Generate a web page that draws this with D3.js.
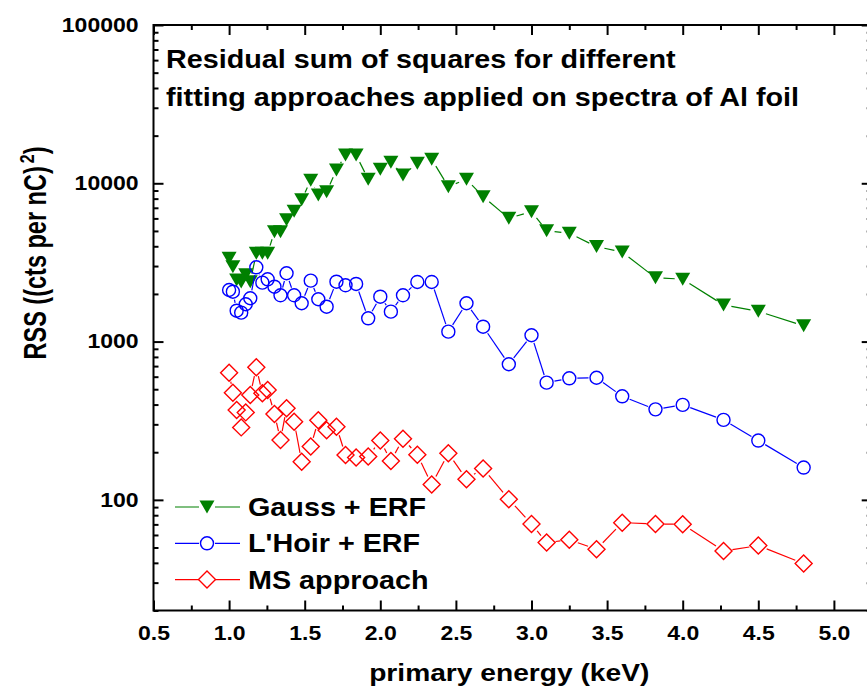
<!DOCTYPE html>
<html>
<head>
<meta charset="utf-8">
<script src="https://cdn.jsdelivr.net/npm/d3@7"></script>
<style>
  body { margin: 0; background: #fff; }
  text { font-family: "Liberation Sans", Arial, sans-serif; font-weight: bold; fill: #000; }
</style>
</head>
<body>
<div id="chart"></div>
<script>
// primary energy (keV) of each measured spectrum
const energy = [1.0, 1.025, 1.05, 1.08, 1.11, 1.14, 1.18, 1.22, 1.255, 1.3, 1.34, 1.38, 1.43, 1.48,
    1.54, 1.59, 1.645, 1.71, 1.77, 1.84, 1.92, 2.0, 2.07, 2.15, 2.245, 2.34, 2.45, 2.57, 2.68,
    2.85, 3.0, 3.1, 3.25, 3.43, 3.6, 3.82, 4.0, 4.27, 4.5, 4.8];

const gaussErf = [3360, 2970, 2450, 2380, 2640, 2390, 3610, 3610, 3610, 4950, 4950, 5890, 6660, 7880,
    10440, 8440, 8850, 12140, 15100, 15100, 10600, 12250, 13600, 11280, 13370, 14180, 9520, 10600, 8230,
    6010, 6620, 5020, 4830, 3980, 3680, 2530, 2480, 1705, 1553, 1259];

const lhoirErf = [2117, 2066, 1567, 1523, 1721, 1878, 2946, 2356, 2474, 2222, 1961, 2701, 1961, 1746,
    2426, 1851, 1661, 2390, 2268, 2313, 1403, 1921, 1545, 1961, 2380, 2380, 1155, 1746, 1242,
    719, 1096, 550, 586, 591, 451, 373, 398, 320, 237, 160];

const msApproach = [636, 475, 370, 287, 357, 460, 688, 471, 494, 349, 239, 379, 312, 174,
    217, 318, 275, 290, 192, 185, 188, 237, 176, 243, 193, 125, 197, 135, 158,
    101, 70.4, 53.7, 55.9, 48.8, 71.8, 70.4, 70.2, 47.5, 51.4, 39.6];

const seriesNames = ["Gauss + ERF", "L'Hoir + ERF", "MS approach"];
const xTicks = [0.5, 1.0, 1.5, 2.0, 2.5, 3.0, 3.5, 4.0, 4.5, 5.0];
const yTicks = [100, 1000, 10000, 100000];
const titleLines = ["Residual sum of squares for different", "fitting approaches applied on spectra of Al foil"];

const W = 867, H = 694;
const SX = 1.15; // the source picture is stretched sideways

const svg = d3.select("#chart").append("svg")
    .attr("width", W)
    .attr("height", H);

const x = d3.scaleLinear().domain([0.5, 5.25]).range([153.5, 871.7]);
const y = d3.scaleLog().domain([20, 100000]).range([610.5, 25]);

// text drawn with the same sideways stretch as the original
function label(g, px, py, str, size, anchor) {
    return g.append("text")
        .attr("transform", `translate(${px},${py}) scale(${SX},1)`)
        .attr("text-anchor", anchor || "start")
        .style("font-size", size + "px")
        .text(str);
}

// minor ticks
const xMinor = d3.range(0.75, 5.25, 0.5);
const yMinor = [];
[10, 100, 1000, 10000].forEach(d => d3.range(2, 10).forEach(k => {
    if (d * k >= 20) yMinor.push(d * k);
}));

function styleAxis(g) {
    g.select(".domain").remove();
    g.selectAll(".tick line").attr("stroke", "#000").attr("stroke-width", 2);
}

// bottom
svg.append("g").attr("transform", `translate(0,${y.range()[0]})`)
    .call(d3.axisBottom(x).tickValues(xMinor).tickSize(-5).tickFormat(""))
    .call(styleAxis);
const xAxis = svg.append("g").attr("transform", `translate(0,${y.range()[0]})`)
    .call(d3.axisBottom(x).tickValues(xTicks).tickSize(-10).tickPadding(15).tickFormat(d3.format(".1f")))
    .call(styleAxis);
xAxis.selectAll(".tick text")
    .attr("transform", `scale(${SX},1)`)
    .style("font-size", "20px")
    .style("font-family", "'Liberation Sans', Arial, sans-serif")
    .style("font-weight", "bold");

// top
svg.append("g").attr("transform", `translate(0,${y.range()[1]})`)
    .call(d3.axisTop(x).tickValues(xMinor).tickSize(-5).tickFormat(""))
    .call(styleAxis);
svg.append("g").attr("transform", `translate(0,${y.range()[1]})`)
    .call(d3.axisTop(x).tickValues(xTicks).tickSize(-10).tickFormat(""))
    .call(styleAxis);

// left
svg.append("g").attr("transform", `translate(${x.range()[0]},0)`)
    .call(d3.axisLeft(y).tickValues(yMinor).tickSize(-5).tickFormat(""))
    .call(styleAxis);
const yAxis = svg.append("g").attr("transform", `translate(${x.range()[0]},0)`)
    .call(d3.axisLeft(y).tickValues(yTicks).tickSize(-10).tickPadding(13).tickFormat(d3.format("d")))
    .call(styleAxis);
yAxis.selectAll(".tick text")
    .attr("transform", `scale(${SX},1)`)
    .style("font-size", "20px")
    .style("font-family", "'Liberation Sans', Arial, sans-serif")
    .style("font-weight", "bold");

// right
svg.append("g").attr("transform", `translate(${x.range()[1]},0)`)
    .call(d3.axisRight(y).tickValues(yMinor).tickSize(-5).tickFormat(""))
    .call(styleAxis);
svg.append("g").attr("transform", `translate(${x.range()[1]},0)`)
    .call(d3.axisRight(y).tickValues(yTicks).tickSize(-10).tickFormat(""))
    .call(styleAxis);

// frame
svg.append("rect")
    .attr("x", x.range()[0])
    .attr("y", y.range()[1])
    .attr("width", x.range()[1] - x.range()[0])
    .attr("height", y.range()[0] - y.range()[1])
    .attr("fill", "none")
    .attr("stroke", "#000")
    .attr("stroke-width", 2);

// axis titles
label(svg, (x.range()[0] + 867) / 2 - 1, 681, "primary energy (keV)", 24.5, "middle");

const yTitle = svg.append("text")
    .attr("transform", `translate(46,253) rotate(-90) scale(1,1.3)`)
    .attr("text-anchor", "middle")
    .style("font-size", "23.5px");
yTitle.append("tspan").text("RSS ((cts per nC)");
yTitle.append("tspan").attr("dx", 3).attr("dy", -9).style("font-size", "16px").text("2");
yTitle.append("tspan").attr("dy", 9).text(")");

// title inside the frame
titleLines.forEach((t, i) => label(svg, 166, 68 + i * 38, t, 25));

// markers
const triangle = "M-7.5,-6.5L7.5,-6.5L0,6.5Z";
const diamond = "M0,-8.5L8.5,0L0,8.5L-8.5,0Z";

const series = [
    { name: seriesNames[0], values: gaussErf, color: "#008000", gap: 8, draw: g => g.append("path").attr("d", triangle).attr("fill", "#008000") },
    { name: seriesNames[1], values: lhoirErf, color: "#0000ff", gap: 8, draw: g => g.append("circle").attr("r", 6.5).attr("fill", "none").attr("stroke", "#0000ff").attr("stroke-width", 1.4) },
    { name: seriesNames[2], values: msApproach, color: "#ff0000", gap: 9, draw: g => g.append("path").attr("d", diamond).attr("fill", "none").attr("stroke", "#ff0000").attr("stroke-width", 1.4) }
];

series.forEach(s => {
    const pts = energy.map((e, i) => [x(e), y(s.values[i])]);

    // connecting lines stop short of the markers
    const segs = [];
    for (let i = 1; i < pts.length; i++) {
        const [x0, y0] = pts[i - 1], [x1, y1] = pts[i];
        const len = Math.hypot(x1 - x0, y1 - y0);
        if (len <= 2 * s.gap) continue;
        const ux = (x1 - x0) / len, uy = (y1 - y0) / len;
        segs.push([x0 + ux * s.gap, y0 + uy * s.gap, x1 - ux * s.gap, y1 - uy * s.gap]);
    }
    svg.append("g").selectAll("line")
        .data(segs)
        .join("line")
        .attr("x1", d => d[0]).attr("y1", d => d[1])
        .attr("x2", d => d[2]).attr("y2", d => d[3])
        .attr("stroke", s.color)
        .attr("stroke-width", 1.2);

    svg.append("g").selectAll("g")
        .data(pts)
        .join("g")
        .attr("transform", d => `translate(${d[0]},${d[1]})`)
        .each(function () { s.draw(d3.select(this)); });
});

// legend
series.forEach((s, i) => {
    const ly = 507 + i * 36.3;
    const g = svg.append("g");
    g.append("line").attr("x1", 175).attr("x2", 240).attr("y1", ly).attr("y2", ly)
        .attr("stroke", s.color).attr("stroke-width", 1.2);
    const m = g.append("g").attr("transform", `translate(207,${ly})`);
    m.append("rect").attr("x", -8).attr("y", -8).attr("width", 16).attr("height", 16).attr("fill", "#fff");
    s.draw(m);
    label(g, 248, ly + 9, s.name, 25);
});
</script>
</body>
</html>
